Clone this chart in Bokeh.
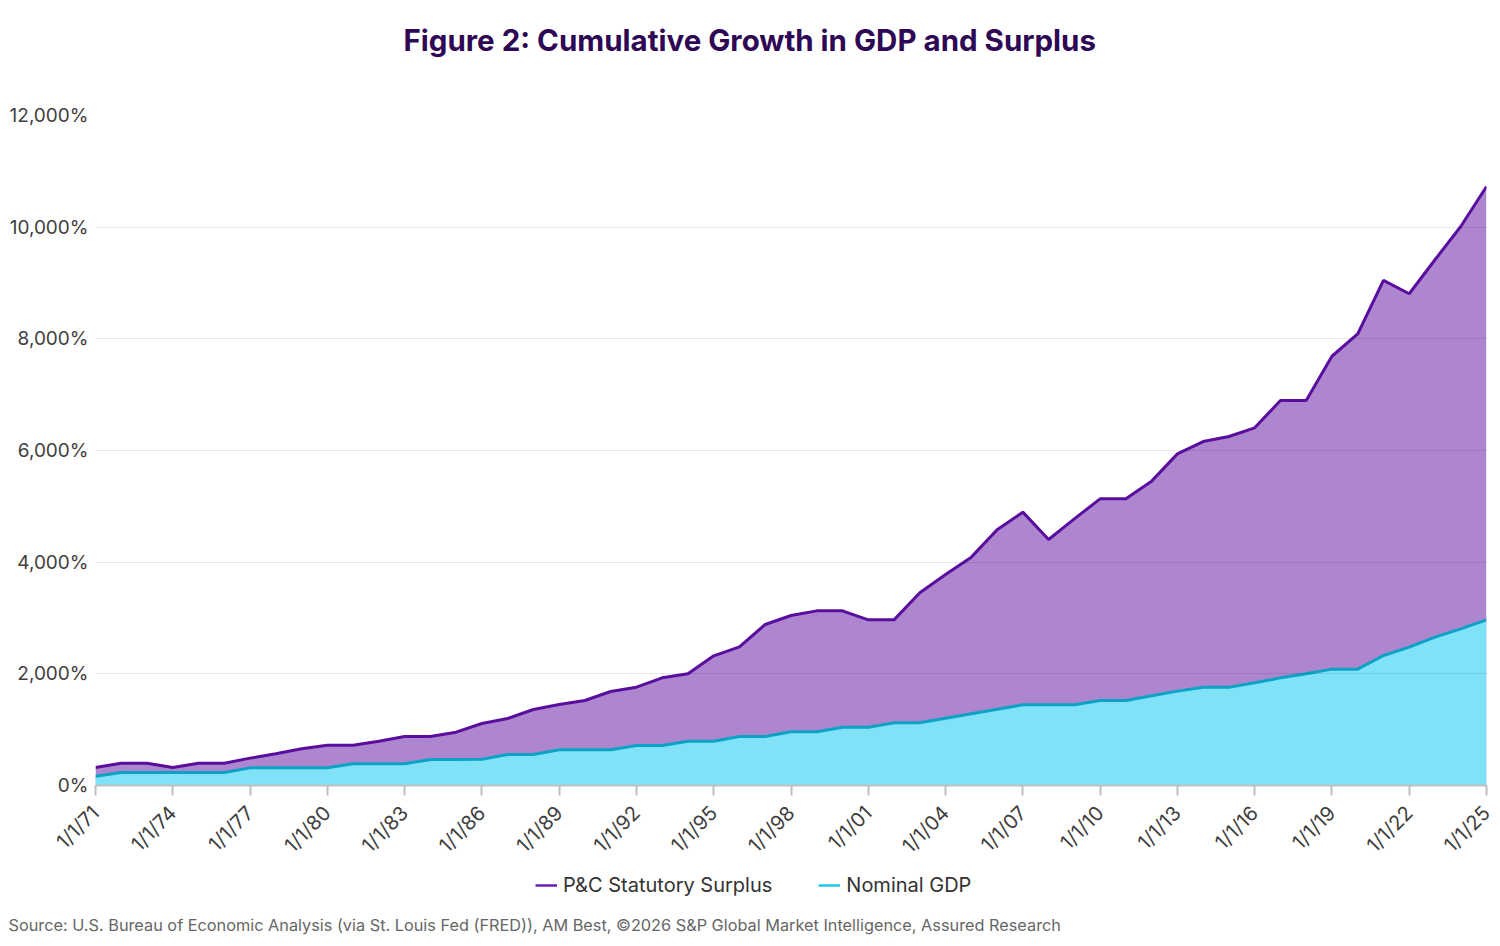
import math
from bokeh.plotting import figure
from bokeh.layouts import column
from bokeh.models import Range1d, FixedTicker, Legend, LegendItem, Title
from bokeh.embed import file_html
from bokeh.resources import INLINE

years = list(range(1971, 2026))

surplus = [322, 400, 400, 322, 400, 400, 490, 567, 657, 722,
           722, 794, 878, 878, 955, 1110, 1200, 1361, 1451, 1522,
           1684, 1761, 1928, 2000, 2322, 2484, 2884, 3045, 3128, 3128,
           2967, 2967, 3451, 3779, 4090, 4579, 4896, 4406, 4776, 5134,
           5134, 5451, 5940, 6160, 6251, 6406, 6895, 6895, 7688, 8087,
           9046, 8808, 9416, 10012, 10727]

gdp = [167, 233, 233, 233, 233, 233, 316, 316, 316, 316,
       388, 388, 388, 466, 466, 470, 555, 555, 639, 639,
       639, 716, 716, 794, 794, 878, 878, 961, 961, 1045,
       1045, 1122, 1123, 1206, 1284, 1367, 1445, 1445, 1445, 1522,
       1522, 1606, 1690, 1761, 1761, 1839, 1928, 2000, 2084, 2084,
       2328, 2478, 2657, 2806, 2967]

x_tick_years = list(range(1971, 2026, 3))
x_tick_labels = ["1/1/71", "1/1/74", "1/1/77", "1/1/80", "1/1/83", "1/1/86",
                 "1/1/89", "1/1/92", "1/1/95", "1/1/98", "1/1/01", "1/1/04",
                 "1/1/07", "1/1/10", "1/1/13", "1/1/16", "1/1/19", "1/1/22",
                 "1/1/25"]
y_tick_values = [0, 2000, 4000, 6000, 8000, 10000, 12000]
y_tick_labels = ["0%", "2,000%", "4,000%", "6,000%", "8,000%", "10,000%", "12,000%"]

series_names = ["P&C Statutory Surplus", "Nominal GDP"]
title_text = "Figure 2: Cumulative Growth in GDP and Surplus"
source_text = ("Source: U.S. Bureau of Economic Analysis (via St. Louis Fed (FRED)), AM Best, "
               "\u00a92026 S&P Global Market Intelligence, Assured Research")

FONT = "Inter"
NAN = float("nan")
MAIN_H = 873
FOOT_H = 73

# ---------------- main chart ----------------
p = figure(width=1500, height=MAIN_H, output_backend="svg", toolbar_location=None,
           x_range=Range1d(1971, 2025), y_range=Range1d(0, 12000),
           min_border_left=95, min_border_right=14, min_border_top=115,
           min_border_bottom=88)
p.title = None
p.outline_line_color = None
p.background_fill_color = "white"
p.border_fill_color = "white"

p.varea(x=years, y1=0, y2=surplus, fill_color="#5B0EA0", fill_alpha=0.5)
p.varea(x=years, y1=0, y2=gdp, fill_color="#7FE2F6", fill_alpha=1.0)
p.line(years, surplus, line_color="#5A0E9E", line_width=3)
p.line(years, gdp, line_color="#0AA3C6", line_width=3)

p.xgrid.grid_line_color = None
p.ygrid.ticker = FixedTicker(ticks=y_tick_values)
p.ygrid.grid_line_color = "#000000"
p.ygrid.grid_line_alpha = 0.09
p.ygrid.level = "guide"

p.xaxis.ticker = FixedTicker(ticks=x_tick_years)
p.xaxis.major_label_overrides = dict(zip(x_tick_years, x_tick_labels))
p.xaxis.major_label_orientation = math.pi / 4
p.xaxis.major_label_text_font = FONT
p.xaxis.major_label_text_font_size = "20px"
p.xaxis.major_label_text_color = "#404040"
p.xaxis.axis_line_color = "#BFBFBF"
p.xaxis.axis_line_width = 2
p.xaxis.major_tick_line_color = "#BFBFBF"
p.xaxis.major_tick_line_width = 2
p.xaxis.major_tick_out = 10
p.xaxis.major_tick_in = 0
p.xaxis.minor_tick_line_color = None
p.xaxis.major_label_standoff = 14

p.yaxis.ticker = FixedTicker(ticks=y_tick_values)
p.yaxis.major_label_overrides = dict(zip(y_tick_values, y_tick_labels))
p.yaxis.major_label_text_font = FONT
p.yaxis.major_label_text_font_size = "19px"
p.yaxis.major_label_text_color = "#404040"
p.yaxis.axis_line_color = None
p.yaxis.major_tick_line_color = None
p.yaxis.minor_tick_line_color = None
p.yaxis.major_tick_out = 0
p.yaxis.major_label_standoff = 7

# title: spacer panel next to the frame, then the title itself
spacer = Title(text=" ", text_font=FONT, text_font_size="28px", standoff=22)
p.add_layout(spacer, "above")
main_title = Title(text=title_text, align="left", offset=308, standoff=0,
                   text_font=FONT, text_font_size="29.5px", text_font_style="bold",
                   text_color="#2E0854")
p.add_layout(main_title, "above")

# ---------------- footer: legend + source ----------------
foot = figure(width=1500, height=FOOT_H, output_backend="svg", toolbar_location=None,
              x_range=Range1d(0, 1), y_range=Range1d(0, 1),
              x_axis_location=None, y_axis_location=None,
              min_border_left=95, min_border_right=14, min_border_top=0,
              min_border_bottom=38)
foot.title = None
foot.grid.visible = False
foot.outline_line_color = None
foot.background_fill_color = "white"
foot.border_fill_color = "white"

r1 = foot.line(x=[NAN], y=[NAN], line_color="#6A1FB0", line_width=2.5)
r2 = foot.line(x=[NAN], y=[NAN], line_color="#1DC8EE", line_width=2.5)
legend = Legend(items=[LegendItem(label=series_names[0], renderers=[r1]),
                       LegendItem(label=series_names[1], renderers=[r2])],
                orientation="horizontal", location=(440, 11),
                label_text_font=FONT, label_text_font_size="20px",
                label_text_color="#333333", glyph_width=22, glyph_height=20,
                label_standoff=6, spacing=46, padding=0, margin=0,
                border_line_color=None, background_fill_alpha=0)
foot.add_layout(legend, "center")

src = Title(text=source_text, align="left", text_font=FONT, text_font_size="16.3px",
            text_font_style="normal", text_color="#666666", offset=-87, standoff=8)
foot.add_layout(src, "below")

layout = column(p, foot, spacing=0)
open("out.html", "w").write(file_html(layout, INLINE))
